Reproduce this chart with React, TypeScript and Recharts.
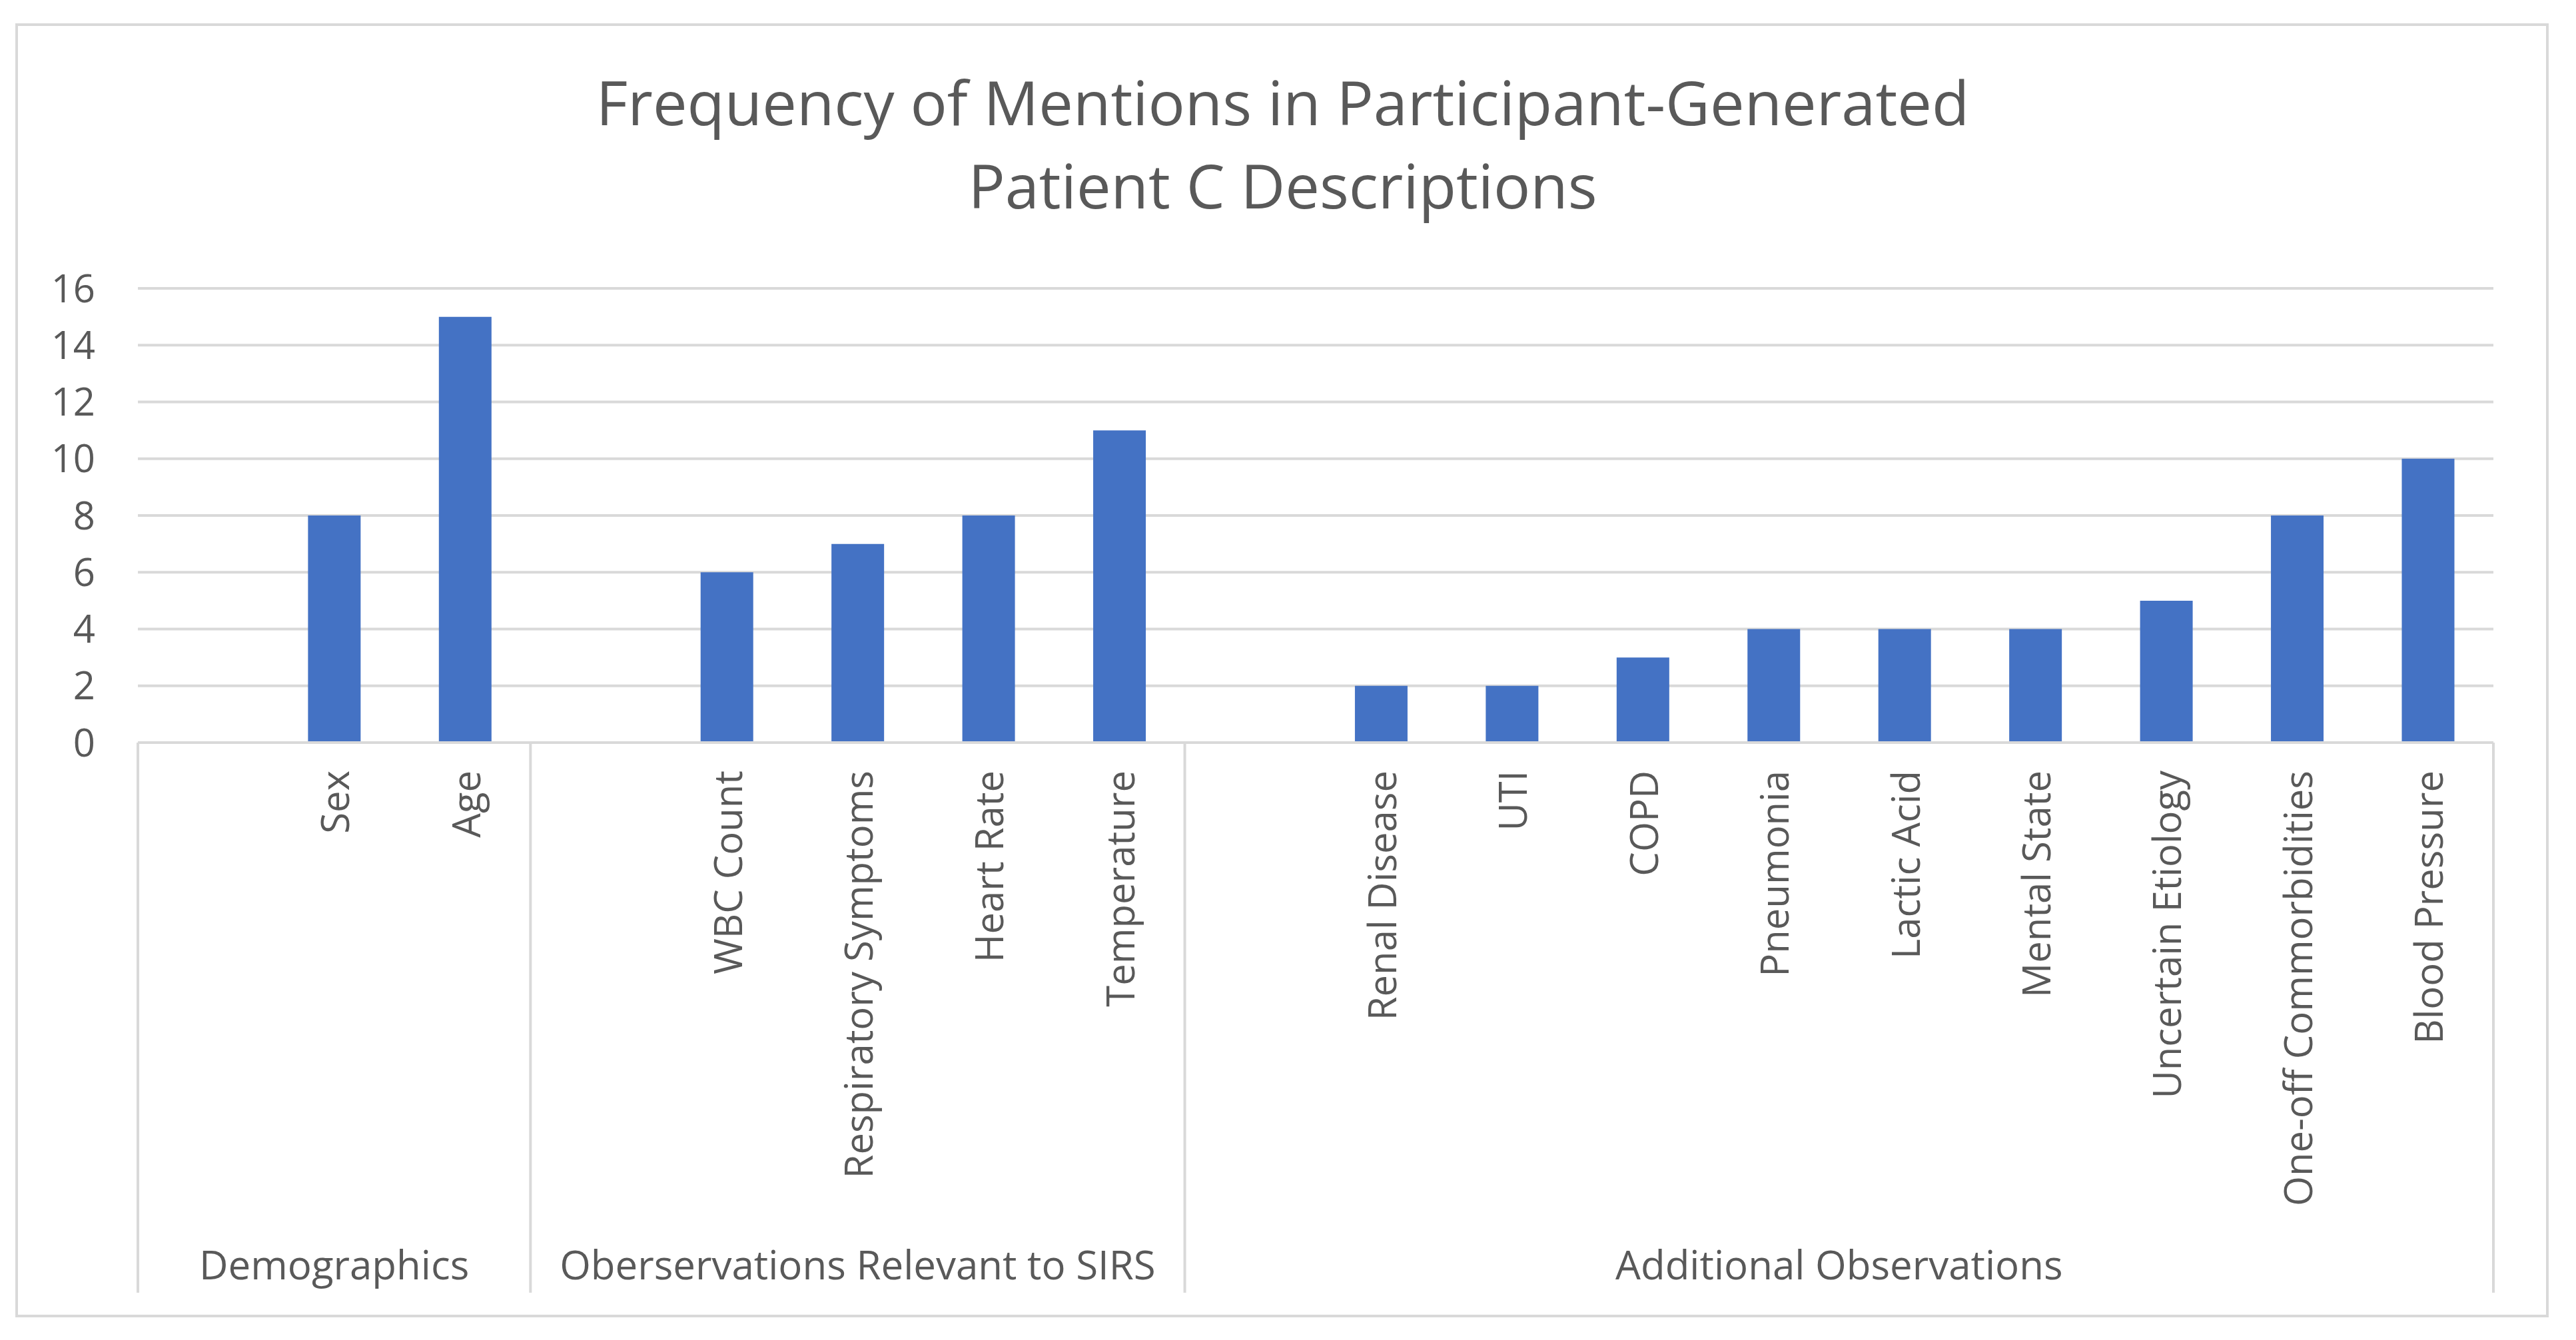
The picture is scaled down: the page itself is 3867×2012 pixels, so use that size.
import React from "react";
import { BarChart, Bar, XAxis, YAxis, CartesianGrid } from "recharts";

// one slot per category; blank slots open each group like the Excel multi-level axis
const groups = ["Demographics", "Oberservations Relevant to SIRS", "Additional Observations"];
const groupOf = [0, 0, 0, 1, 1, 1, 1, 1, 2, 2, 2, 2, 2, 2, 2, 2, 2, 2];
const labels = [
  "", "Sex", "Age",
  "", "WBC Count", "Respiratory Symptoms", "Heart Rate", "Temperature",
  "", "Renal Disease", "UTI", "COPD", "Pneumonia", "Lactic Acid", "Mental State",
  "Uncertain Etiology", "One-off Commorbidities", "Blood Pressure",
];
const mentions = [null, 8, 15, null, 6, 7, 8, 11, null, 2, 2, 3, 4, 4, 4, 5, 8, 10];
const yTicks = [0, 2, 4, 6, 8, 10, 12, 14, 16];

const W = 3867;
const H = 2012;
const M = { top: 433, right: 124, bottom: 57, left: 0 };
const Y_W = 207;
const X_H = 840;
const PLOT_W = W - M.left - M.right - Y_W;
const SLOT = PLOT_W / labels.length;
const GREY = "#d9d9d9";
const TEXT = "#595959";
const FONT = "'Open Sans', sans-serif";

const data = labels.map((label, i) => ({ key: `c${i}`, label, value: mentions[i] }));

function CategoryTick(props: any) {
  const { x, y, payload } = props;
  const i = payload.index;
  const g = groupOf[i];
  const first = i === 0 || groupOf[i - 1] !== g;
  const last = i === labels.length - 1;
  const count = groupOf.filter((v) => v === g).length;
  const lineBottom = y + 826;
  const ly = y + 42;
  return (
    <g>
      {labels[i] && (
        <text
          x={x}
          y={ly}
          transform={`rotate(-90, ${x}, ${ly})`}
          textAnchor="end"
          dominantBaseline="central"
          fontSize={58}
          fontFamily={FONT}
          fill={TEXT}
        >
          {labels[i]}
        </text>
      )}
      {first && (
        <>
          <line x1={x - SLOT / 2} x2={x - SLOT / 2} y1={y} y2={lineBottom} stroke={GREY} strokeWidth={4} />
          <text
            x={x - SLOT / 2 + (count * SLOT) / 2}
            y={y + 783}
            textAnchor="middle"
            dominantBaseline="central"
            fontSize={60}
            fontFamily={FONT}
            fill={TEXT}
          >
            {groups[g]}
          </text>
        </>
      )}
      {last && (
        <line x1={x + SLOT / 2} x2={x + SLOT / 2} y1={y} y2={lineBottom} stroke={GREY} strokeWidth={4} />
      )}
    </g>
  );
}

export default function App() {
  return (
    <div style={{ position: "absolute", left: 0, top: 0, width: W, height: H, background: "#fff" }}>
      <div
        style={{
          position: "absolute",
          left: 23,
          top: 35,
          width: 3803,
          height: 1943,
          border: `4px solid ${GREY}`,
          boxSizing: "border-box",
        }}
      />
      <div
        style={{
          position: "absolute",
          left: 0,
          top: 90,
          width: 3851,
          textAlign: "center",
          fontFamily: FONT,
          fontSize: 92,
          lineHeight: "125px",
          color: TEXT,
        }}
      >
        Frequency of Mentions in Participant-Generated
        <br />
        Patient C Descriptions
      </div>
      <BarChart width={W} height={H} data={data} margin={M} barCategoryGap="30%">
        <CartesianGrid vertical={false} stroke={GREY} strokeWidth={4} />
        <XAxis
          dataKey="key"
          height={X_H}
          interval={0}
          tickLine={false}
          tickSize={0}
          tickMargin={0}
          axisLine={{ stroke: GREY, strokeWidth: 4 }}
          tick={<CategoryTick />}
        />
        <YAxis
          width={Y_W}
          domain={[0, 16]}
          ticks={yTicks}
          interval={0}
          axisLine={false}
          tickLine={false}
          tickSize={0}
          tickMargin={64}
          tick={{ fontSize: 58, fontFamily: FONT, fill: TEXT }}
        />
        <Bar dataKey="value" fill="#4472c4" isAnimationActive={false} />
      </BarChart>
    </div>
  );
}
